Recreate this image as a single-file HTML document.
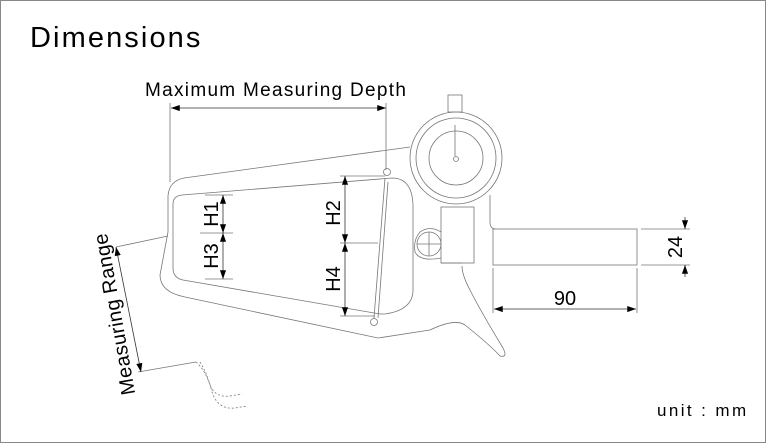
<!DOCTYPE html>
<html><head><style>
html,body{margin:0;padding:0;background:#fff}
svg{display:block}
text{font-family:"Liberation Sans",sans-serif;fill:#000}
</style></head><body>
<svg width="766" height="443" viewBox="0 0 766 443" xmlns="http://www.w3.org/2000/svg">
<defs>
<marker id="a" viewBox="0 0 10 8" refX="10" refY="4" markerUnits="userSpaceOnUse" markerWidth="9" markerHeight="7" orient="auto-start-reverse"><path d="M0,0.5 L10,4 L0,7.5 z" fill="#000"/></marker>
</defs>
<rect x="0.5" y="0.5" width="765" height="442" fill="#fff" stroke="#888"/>
<text x="30" y="47" font-size="29" letter-spacing="2.1">Dimensions</text>
<text x="145" y="96" font-size="19" letter-spacing="1.3">Maximum Measuring Depth</text>
<text x="657" y="416" font-size="17" letter-spacing="2.4">unit : mm</text>
<g fill="none" stroke="#777" stroke-width="0.8">
<line x1="170" y1="103" x2="170" y2="182"/>
<line x1="386" y1="103" x2="386" y2="170"/>
<line x1="171" y1="108" x2="386" y2="108" stroke="#333" marker-start="url(#a)" marker-end="url(#a)"/>
<path d="M410,147 L184,178 Q169,181 168,196 L168,232 L160,275 Q160,292 185,297 L378,338 L430,330 Q455,318 465,325 Q490,345 500,356 Q508,358 503,348 Q480,310 470,290 Q462,275 462,266"/>
<path d="M182,195 L392,178 Q412,178 413,205 L413,290 Q413,310 385,314 L380,314 L183,280 Q173,278 173,268 L173,204 Q173,196 182,195"/>
<line x1="385" y1="178" x2="374" y2="318"/>
<line x1="388" y1="182" x2="378" y2="318"/>
<circle cx="387" cy="172" r="3.5"/>
<circle cx="374" cy="322" r="3.5"/>
<circle cx="456" cy="158" r="46"/>
<circle cx="456" cy="158" r="40"/>
<circle cx="456" cy="158" r="27"/>
<circle cx="456" cy="159" r="2.5"/>
<line x1="455" y1="156" x2="455" y2="125"/>
<rect x="448" y="95" width="14" height="17"/>
<rect x="441" y="207" width="33" height="56"/>
<path d="M490,195 L490,222 Q490,229 496,229"/>
<path d="M441,263 L462,263"/>
<circle cx="429" cy="244" r="12"/>
<line x1="417" y1="244" x2="441" y2="244"/>
<line x1="429" y1="232" x2="429" y2="256"/>
<path d="M441,232 Q430,225 420,232 Q413,240 415,252 Q420,262 441,258"/>
<rect x="493" y="229" width="144" height="36"/>
<line x1="493" y1="268" x2="493" y2="313"/>
<line x1="637" y1="268" x2="637" y2="313"/>
<line x1="494" y1="309" x2="636" y2="309" stroke="#333" marker-start="url(#a)" marker-end="url(#a)"/>
<line x1="641" y1="229" x2="690" y2="229"/>
<line x1="641" y1="265" x2="690" y2="265"/>
<line x1="685" y1="217" x2="685" y2="229" stroke="#333" marker-end="url(#a)"/>
<line x1="685" y1="277" x2="685" y2="265" stroke="#333" marker-end="url(#a)"/>
<line x1="200" y1="233" x2="233" y2="233"/>
<line x1="205" y1="195" x2="233" y2="195"/>
<line x1="205" y1="279" x2="233" y2="279"/>
<line x1="223" y1="195" x2="223" y2="233" stroke="#333" marker-start="url(#a)" marker-end="url(#a)"/>
<line x1="223" y1="233" x2="223" y2="279" stroke="#333" marker-start="url(#a)" marker-end="url(#a)"/>
<line x1="340" y1="176" x2="385" y2="176"/>
<line x1="340" y1="243" x2="378" y2="243"/>
<line x1="340" y1="316" x2="375" y2="316"/>
<line x1="345" y1="176" x2="345" y2="243" stroke="#333" marker-start="url(#a)" marker-end="url(#a)"/>
<line x1="345" y1="243" x2="345" y2="316" stroke="#333" marker-start="url(#a)" marker-end="url(#a)"/>
<line x1="116" y1="247" x2="168" y2="236"/>
<line x1="138" y1="372" x2="196" y2="362"/>
<line x1="116" y1="247" x2="141" y2="372" stroke="#333" marker-start="url(#a)" marker-end="url(#a)"/>
<path d="M196,362 Q205,370 210,385 Q215,398 230,396 L242,394" stroke-dasharray="2,2"/>
<path d="M200,362 Q208,375 212,392 Q218,410 235,408 L247,406" stroke-dasharray="2,2"/>
</g>
<text font-size="20" text-anchor="middle" transform="translate(218,214) rotate(-90)">H1</text>
<text font-size="20" text-anchor="middle" transform="translate(218,256) rotate(-90)">H3</text>
<text font-size="20" text-anchor="middle" transform="translate(340,213) rotate(-90)">H2</text>
<text font-size="20" text-anchor="middle" transform="translate(340,279) rotate(-90)">H4</text>
<text font-size="20" text-anchor="middle" transform="translate(682,247) rotate(-90)">24</text>
<text font-size="20" text-anchor="middle" x="565" y="305">90</text>
<text font-size="20" letter-spacing="0.4" text-anchor="middle" transform="translate(121,313) rotate(-100)">Measuring Range</text>
</svg>
</body></html>
